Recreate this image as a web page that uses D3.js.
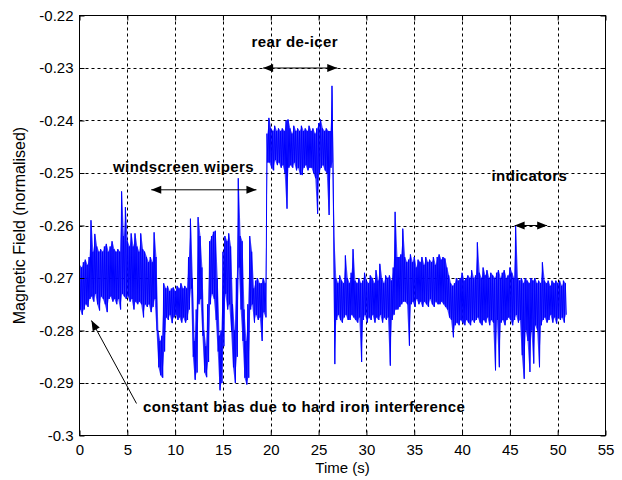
<!DOCTYPE html>
<html><head><meta charset="utf-8">
<script src="https://cdn.jsdelivr.net/npm/d3@7"></script>
<style>
body{margin:0;background:#fff}
svg{display:block}
text{font-family:"Liberation Sans",Arial,Helvetica,sans-serif}
</style>
</head><body>
<svg id="chart" width="622" height="480"></svg>
<script>
// ---- axis ticks ----
const xTicks = [0,5,10,15,20,25,30,35,40,45,50,55];
const yTicks = [-0.3,-0.29,-0.28,-0.27,-0.26,-0.25,-0.24,-0.23,-0.22];
const yTickLabels = ["-0.3","-0.29","-0.28","-0.27","-0.26","-0.25","-0.24","-0.23","-0.22"];

// ---- signal envelope: [time s, local max, local min] ----
const segIdle1 = [
[0.0,-.2675,-.2760],[0.2,-.2680,-.2770],[0.4,-.2670,-.2760],[0.6,-.2665,-.2750],[0.8,-.2675,-.2755],
[1.0,-.2660,-.2740],[1.2,-.2590,-.2735],[1.4,-.2650,-.2745],[1.6,-.2616,-.2730],[1.8,-.2640,-.2750],
[2.0,-.2650,-.2762],[2.2,-.2645,-.2735],[2.4,-.2650,-.2740],[2.6,-.2640,-.2750],[2.8,-.2635,-.2765],
[3.0,-.2650,-.2740],[3.2,-.2640,-.2735],[3.4,-.2630,-.2745],[3.6,-.2645,-.2740],[3.8,-.2650,-.2750],
[4.0,-.2645,-.2740],[4.2,-.2650,-.2760],[4.4,-.2535,-.2730],[4.6,-.2620,-.2735],[4.8,-.2565,-.2740],
[5.0,-.2630,-.2735],[5.2,-.2640,-.2745],[5.4,-.2615,-.2740],[5.6,-.2640,-.2760],[5.8,-.2615,-.2745],
[6.0,-.2640,-.2750],[6.2,-.2650,-.2745],[6.4,-.2615,-.2750],[6.6,-.2645,-.2775],[6.8,-.2650,-.2750],
[7.0,-.2660,-.2755],[7.2,-.2670,-.2750],[7.4,-.2660,-.2765],[7.6,-.2670,-.2755]
];
const segWipers = [
[7.8,-.2613,-.2740],[8.0,-.2660,-.2800],[8.2,-.2800,-.2870],[8.4,-.2820,-.2885],[8.6,-.2810,-.2890],
[8.8,-.2710,-.2840],[9.0,-.2720,-.2775],[9.2,-.2715,-.2780],[9.4,-.2725,-.2770],[9.6,-.2720,-.2786],
[9.8,-.2718,-.2775],[10.0,-.2725,-.2770],[10.2,-.2715,-.2780],[10.4,-.2720,-.2775],[10.6,-.2710,-.2785],
[10.8,-.2720,-.2775],[11.0,-.2715,-.2785],[11.2,-.2720,-.2780],[11.4,-.2660,-.2760],[11.6,-.2587,-.2720],
[11.8,-.2700,-.2850],[12.0,-.2820,-.2894],[12.2,-.2760,-.2880],[12.4,-.2584,-.2750],[12.6,-.2620,-.2740],
[12.8,-.2680,-.2810],[13.0,-.2800,-.2880],[13.2,-.2830,-.2889],[13.4,-.2750,-.2860],[13.6,-.2630,-.2750],
[13.8,-.2620,-.2730],[14.0,-.2612,-.2740],[14.2,-.2610,-.2780],[14.4,-.2700,-.2840],[14.6,-.2810,-.2914],
[14.8,-.2800,-.2900],[15.0,-.2650,-.2830],[15.2,-.2620,-.2730],[15.4,-.2630,-.2760],[15.6,-.2615,-.2750],
[15.8,-.2640,-.2800],[16.0,-.2750,-.2870],[16.2,-.2800,-.2900],[16.4,-.2700,-.2850],[16.6,-.2510,-.2680],
[16.8,-.2620,-.2760],[17.0,-.2630,-.2820],[17.2,-.2760,-.2890],[17.4,-.2820,-.2903],[17.6,-.2750,-.2890],
[17.8,-.2620,-.2760],[18.0,-.2650,-.2750],[18.2,-.2720,-.2785],[18.4,-.2705,-.2770],[18.6,-.2700,-.2780],
[18.8,-.2710,-.2775],[19.0,-.2710,-.2820],[19.2,-.2700,-.2765],[19.4,-.2710,-.2775]
];
const segDeicer = [
[19.6,-.2425,-.2480],[19.8,-.2395,-.2480],[20.0,-.2415,-.2490],[20.2,-.2420,-.2495],[20.4,-.2410,-.2475],
[20.6,-.2420,-.2485],[20.8,-.2415,-.2480],[21.0,-.2420,-.2490],[21.2,-.2415,-.2485],[21.4,-.2420,-.2500],
[21.6,-.2400,-.2568],[21.8,-.2398,-.2490],[22.0,-.2415,-.2485],[22.2,-.2425,-.2490],[22.4,-.2410,-.2480],
[22.6,-.2420,-.2495],[22.8,-.2415,-.2490],[23.0,-.2420,-.2503],[23.2,-.2410,-.2504],[23.4,-.2420,-.2490],
[23.6,-.2415,-.2485],[23.8,-.2420,-.2495],[24.0,-.2410,-.2490],[24.2,-.2420,-.2490],[24.4,-.2415,-.2500],
[24.6,-.2425,-.2510],[24.8,-.2415,-.2578],[25.0,-.2405,-.2500],[25.2,-.2398,-.2490],[25.4,-.2415,-.2485],
[25.6,-.2420,-.2495],[25.8,-.2415,-.2500],[26.0,-.2420,-.2580],[26.2,-.2420,-.2490],[26.4,-.2334,-.2480]
];
const segIdle2 = [
[26.6,-.2620,-.2864],[26.8,-.2700,-.2780],[27.0,-.2710,-.2770],[27.2,-.2695,-.2780],[27.4,-.2705,-.2785],
[27.6,-.2710,-.2775],[27.8,-.2657,-.2770],[28.0,-.2700,-.2780],[28.2,-.2710,-.2780],[28.4,-.2690,-.2770],
[28.6,-.2645,-.2775],[28.8,-.2705,-.2780],[29.0,-.2710,-.2785],[29.2,-.2700,-.2775],[29.4,-.2710,-.2860],
[29.6,-.2705,-.2780],[29.8,-.2690,-.2770],[30.0,-.2705,-.2785],[30.2,-.2710,-.2775],[30.4,-.2695,-.2780],
[30.6,-.2700,-.2770],[30.8,-.2710,-.2785],[31.0,-.2685,-.2775],[31.2,-.2705,-.2780],[31.4,-.2673,-.2770],
[31.6,-.2700,-.2785],[31.8,-.2710,-.2775],[32.0,-.2695,-.2780],[32.2,-.2700,-.2775],[32.4,-.2695,-.2867],
[32.6,-.2705,-.2780],[32.8,-.2680,-.2770],[33.0,-.2574,-.2760],[33.2,-.2660,-.2760]
];
const segIdle3 = [
[33.4,-.2660,-.2755],[33.6,-.2655,-.2750],[33.8,-.2606,-.2745],[34.0,-.2660,-.2745],[34.2,-.2670,-.2750],
[34.4,-.2665,-.2829],[34.6,-.2655,-.2750],[34.8,-.2670,-.2745],[35.0,-.2660,-.2755],[35.2,-.2680,-.2740],
[35.4,-.2665,-.2750],[35.6,-.2670,-.2745],[35.8,-.2660,-.2755],[36.0,-.2675,-.2745],[36.2,-.2660,-.2750],
[36.4,-.2670,-.2755],[36.6,-.2665,-.2740],[36.8,-.2670,-.2750],[37.0,-.2660,-.2755],[37.2,-.2675,-.2745],
[37.4,-.2660,-.2750],[37.6,-.2655,-.2750],[37.8,-.2665,-.2745],[38.0,-.2660,-.2750],[38.2,-.2663,-.2755],
[38.4,-.2680,-.2760],[38.6,-.2695,-.2775],[38.8,-.2710,-.2780],[39.0,-.2715,-.2813]
];
const segIdle4 = [
[39.2,-.2710,-.2790],[39.4,-.2700,-.2785],[39.6,-.2705,-.2790],[39.8,-.2700,-.2780],[40.0,-.2690,-.2785],
[40.2,-.2705,-.2790],[40.4,-.2700,-.2780],[40.6,-.2695,-.2785],[40.8,-.2700,-.2790],[41.0,-.2685,-.2780],
[41.2,-.2700,-.2785],[41.4,-.2695,-.2780],[41.6,-.2632,-.2775],[41.8,-.2690,-.2785],[42.0,-.2700,-.2790],
[42.2,-.2680,-.2780],[42.4,-.2695,-.2785],[42.6,-.2685,-.2775],[42.8,-.2700,-.2790],[43.0,-.2690,-.2780],
[43.2,-.2695,-.2785],[43.4,-.2700,-.2876],[43.6,-.2690,-.2780],[43.8,-.2685,-.2870],[44.0,-.2700,-.2785],
[44.2,-.2690,-.2780],[44.4,-.2685,-.2790],[44.6,-.2700,-.2780],[44.8,-.2695,-.2775],[45.0,-.2680,-.2780],
[45.2,-.2690,-.2790],[45.4,-.2700,-.2780]
];
const segIndicators = [
[45.6,-.2601,-.2770],[45.8,-.2700,-.2785],[46.0,-.2705,-.2780],[46.2,-.2700,-.2847],[46.4,-.2710,-.2892],
[46.6,-.2700,-.2800],[46.8,-.2705,-.2820],[47.0,-.2710,-.2879],[47.2,-.2700,-.2800],[47.4,-.2705,-.2863],
[47.6,-.2700,-.2790],[47.8,-.2710,-.2800],[48.0,-.2705,-.2870],[48.2,-.2710,-.2790],[48.4,-.2670,-.2780],
[48.6,-.2705,-.2775],[48.8,-.2710,-.2785],[49.0,-.2705,-.2780],[49.2,-.2715,-.2770],[49.4,-.2705,-.2785],
[49.6,-.2710,-.2775],[49.8,-.2705,-.2787],[50.0,-.2710,-.2775],[50.2,-.2705,-.2780],[50.4,-.2715,-.2775],
[50.6,-.2705,-.2785],[50.8,-.2710,-.2770]
];

// ---- annotations ----
const labels = {x:"Time (s)", y:"Magnetic Field (normalised)"};
const notes = ["rear de-icer","windscreen wipers","indicators","constant bias due to hard iron interference"];

// ================== drawing ==================
const svg = d3.select("#chart");
const L = 79.5, R = 605.5, T = 15.5, B = 435.5;
const x = d3.scaleLinear().domain([0,55]).range([L,R]);
const y = d3.scaleLinear().domain([-0.3,-0.22]).range([B,T]);

svg.append("rect").attr("width",622).attr("height",480).attr("fill","#fff");
svg.append("rect").attr("x",L).attr("y",T).attr("width",R-L).attr("height",B-T).attr("fill","#fff");

// grid
const grid = svg.append("g").attr("stroke","#000").attr("stroke-width",1).attr("stroke-dasharray","3,3");
grid.selectAll("line.v").data(xTicks.filter(d=>d>0&&d<55)).join("line")
  .attr("x1",d=>Math.round(x(d))+0.5).attr("x2",d=>Math.round(x(d))+0.5).attr("y1",T).attr("y2",B);
grid.selectAll("line.h").data(yTicks.filter((d,i)=>i>0&&i<yTicks.length-1)).join("line")
  .attr("y1",d=>Math.round(y(d))+0.5).attr("y2",d=>Math.round(y(d))+0.5).attr("x1",L).attr("x2",R);

// signal
svg.append("clipPath").attr("id","pc").append("rect")
  .attr("x",L).attr("y",T).attr("width",R-L).attr("height",B-T);
const segments = [segIdle1,segWipers,segDeicer,segIdle2,segIdle3,segIdle4,segIndicators];
const rows = [].concat(...segments);
// dense band: fill between local max and local min
const area = d3.area().x(r=>x(r[0]+0.05)).y0(r=>y(r[2])).y1(r=>y(r[1])).curve(d3.curveLinear);
svg.append("path").attr("clip-path","url(#pc)").attr("d",area(rows))
  .attr("fill","#0000ff").attr("fill-opacity",0.72).attr("stroke","none");
// the trace itself, swinging between local max and min
const pts = [];
rows.forEach(r=>{ pts.push([r[0],r[1]]); pts.push([r[0]+0.1,r[2]]); });
const line = d3.line().x(d=>x(d[0])).y(d=>y(d[1]));
svg.append("path").attr("clip-path","url(#pc)").attr("d",line(pts))
  .attr("fill","none").attr("stroke","#0000ff").attr("stroke-width",1).attr("stroke-linejoin","miter");

// axes (ticks inward)
const fs = "15px";
const axB = svg.append("g").attr("transform",`translate(0,${B})`)
  .call(d3.axisBottom(x).tickValues(xTicks).tickSize(-5).tickSizeOuter(0).tickPadding(9).tickFormat(d3.format("d")));
const axT = svg.append("g").attr("transform",`translate(0,${T})`)
  .call(d3.axisTop(x).tickValues(xTicks).tickSize(-5).tickSizeOuter(0).tickFormat(""));
const axLf = svg.append("g").attr("transform",`translate(${L},0)`)
  .call(d3.axisLeft(y).tickValues(yTicks).tickSize(-5).tickSizeOuter(0).tickPadding(6).tickFormat((d,i)=>yTickLabels[i]));
const axRt = svg.append("g").attr("transform",`translate(${R},0)`)
  .call(d3.axisRight(y).tickValues(yTicks).tickSize(-5).tickSizeOuter(0).tickFormat(""));
[axB,axT,axLf,axRt].forEach(a=>{
  a.select(".domain").remove();
  a.selectAll("line").attr("stroke","#000");
  a.selectAll("text").attr("fill","#000").style("font-size",fs).style("font-family","'Liberation Sans',Arial,sans-serif");
});
svg.append("rect").attr("x",L).attr("y",T).attr("width",R-L).attr("height",B-T)
  .attr("fill","none").attr("stroke","#000").attr("stroke-width",1);

// axis labels
svg.append("text").attr("x",(L+R)/2).attr("y",473).attr("text-anchor","middle")
  .style("font-size",fs).text(labels.x);
svg.append("text").attr("transform",`translate(25,${(T+B)/2}) rotate(-90)`).attr("text-anchor","middle")
  .style("font-size","16px").text(labels.y);

// annotations
const ann = svg.append("g");
function head(tx,ty,ang){ // filled triangle pointing along ang (radians)
  const len=10, half=4;
  const bx=tx-len*Math.cos(ang), by=ty-len*Math.sin(ang);
  const px=-Math.sin(ang)*half, py=Math.cos(ang)*half;
  ann.append("path").attr("d",`M${tx},${ty}L${bx+px},${by+py}L${bx-px},${by-py}Z`).attr("fill","#000");
}
function dbl(t1,t2,v){
  const yy=y(v), xa=x(t1), xb=x(t2);
  ann.append("line").attr("x1",xa).attr("x2",xb).attr("y1",yy).attr("y2",yy).attr("stroke","#000").attr("stroke-width",1);
  head(xa,yy,Math.PI); head(xb,yy,0);
}
dbl(19.2,26.95,-0.23);
dbl(7.5,18.5,-0.2532);
dbl(45.5,48.9,-0.26);
// single arrow
{
  const tx=x(1.25), ty=y(-0.2781), sx=x(5.96), sy=y(-0.2939);
  ann.append("line").attr("x1",sx).attr("y1",sy).attr("x2",tx).attr("y2",ty).attr("stroke","#000").attr("stroke-width",1);
  head(tx,ty,Math.atan2(ty-sy,tx-sx));
}
const bold = (t,xx,yy)=>ann.append("text").attr("x",xx).attr("y",yy).style("font-size",fs)
  .style("font-weight","bold").style("letter-spacing","0.4px").text(t);
bold(notes[0],251.5,47);
bold(notes[1],113,172);
bold(notes[2],491.5,181);
bold(notes[3],143,412);
</script>
</body></html>
